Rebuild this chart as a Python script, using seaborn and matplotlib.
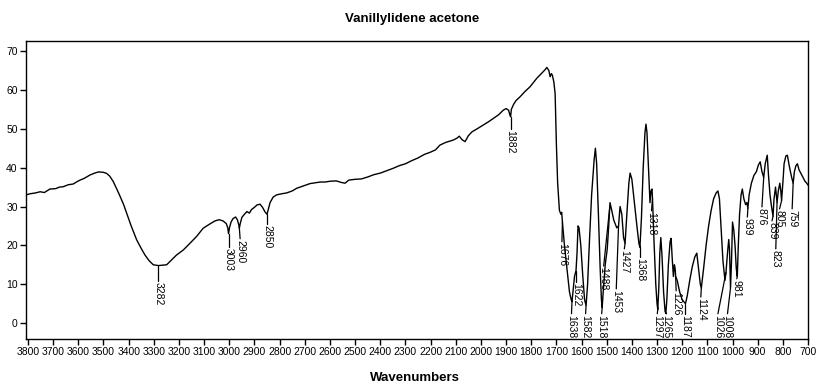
import numpy as np
import matplotlib
matplotlib.use("Agg")
import matplotlib.pyplot as plt
import seaborn as sns

# spectrum (wavenumber, %T)
wavenumber = [
    3808, 3790, 3770, 3752, 3735, 3713, 3690, 3675, 3660, 3640, 3620, 3605, 3593, 3575,
    3554, 3535, 3520, 3500, 3487, 3475, 3461, 3440, 3420, 3408, 3390, 3368, 3350, 3335,
    3318, 3302, 3282, 3265, 3249, 3230, 3210, 3183, 3160, 3130, 3104, 3080, 3057, 3040,
    3025, 3012, 3006, 3003, 2999, 2993, 2985, 2975, 2968, 2962, 2960, 2957, 2950, 2940,
    2930, 2920, 2912, 2900, 2890, 2878, 2868, 2858, 2850, 2846, 2838, 2826, 2812, 2790,
    2772, 2750, 2732, 2710, 2679, 2639, 2620, 2600, 2575, 2555, 2540, 2525, 2500, 2475,
    2450, 2425, 2400, 2375, 2350, 2325, 2300, 2275, 2250, 2225, 2200, 2180, 2163, 2140,
    2110, 2095, 2086, 2075, 2063, 2050, 2036, 2015, 1990, 1970, 1950, 1930, 1911, 1900,
    1890, 1885, 1882, 1879, 1870, 1860, 1845, 1825, 1805, 1790, 1778, 1760, 1745, 1738,
    1730, 1725, 1720, 1716, 1710, 1705, 1700, 1695, 1688, 1682, 1679, 1676, 1668, 1658,
    1648, 1641, 1638, 1634, 1628, 1622, 1618, 1614, 1610, 1603, 1595, 1588, 1582, 1576,
    1568, 1560, 1550, 1545, 1540, 1533, 1526, 1521, 1518, 1514, 1506, 1498, 1492, 1487,
    1480, 1472, 1466, 1460, 1453, 1447, 1440, 1433, 1427, 1420, 1412, 1407, 1400, 1390,
    1380, 1372, 1368, 1362, 1355, 1348, 1344, 1340, 1334, 1328, 1324, 1320, 1318, 1312,
    1305, 1300, 1297, 1293, 1289, 1285, 1280, 1274, 1268, 1265, 1261, 1255, 1248, 1244,
    1240, 1235, 1231, 1228, 1226, 1220, 1210, 1200, 1190, 1187, 1180, 1170, 1160, 1150,
    1142, 1135, 1128, 1124, 1115, 1105, 1095, 1085, 1075, 1065, 1058, 1052, 1045, 1038,
    1030, 1026, 1020, 1015, 1012, 1008, 1004, 1000, 995, 990, 985, 981, 977, 972,
    966, 961, 955, 948, 943, 939, 934, 925, 915, 905, 897, 890, 883, 876,
    870, 862, 857, 851, 845, 839, 835, 829, 823, 818, 812, 808, 805, 800,
    795, 788, 782, 776, 770, 765, 759, 754, 748, 742, 736, 728, 720, 712,
    705, 700,
]
transmittance = [
    33.0, 33.3, 33.5, 33.8, 33.6, 34.5, 34.6, 35.0, 35.1, 35.6, 35.8, 36.4, 36.8, 37.3,
    38.1, 38.6, 38.9, 38.8, 38.5, 37.8, 36.4, 33.5, 30.5, 28.3, 25.0, 21.4, 19.2, 17.5,
    16.0, 15.0, 14.8, 14.9, 15.0, 16.2, 17.5, 18.8, 20.3, 22.3, 24.4, 25.4, 26.3, 26.6,
    26.3, 25.6, 24.5, 23.0, 24.6, 26.0, 26.9, 27.3, 26.6, 25.2, 24.4, 25.5, 27.2, 28.0,
    28.7, 28.3, 29.2, 29.8, 30.4, 30.6, 29.8, 28.6, 28.0, 29.0, 31.0, 32.4, 33.0, 33.3,
    33.5, 34.0, 34.7, 35.2, 35.9, 36.3, 36.3, 36.5, 36.6, 36.2, 36.0, 36.8, 37.0, 37.1,
    37.6, 38.2, 38.6, 39.2, 39.8, 40.5, 41.0, 41.8, 42.5, 43.4, 44.0, 44.6, 45.8, 46.5,
    47.1, 47.6, 48.1, 47.2, 46.7, 48.2, 49.2, 50.0, 51.0, 51.8, 52.7, 53.6, 54.8, 55.2,
    54.8, 53.6, 53.1, 55.0, 56.3, 57.3, 58.2, 59.6, 60.8, 62.0, 63.0, 64.2, 65.2, 65.8,
    65.0, 63.4, 64.2, 63.8, 62.0, 59.0, 46.0, 36.0, 29.0, 28.0, 28.5, 26.0, 20.0, 14.0,
    8.0, 6.0, 5.5, 8.0, 12.0, 13.5, 18.0, 25.0, 24.5, 20.0, 12.0, 6.0, 4.5, 10.0,
    22.0, 33.0, 42.0, 45.0, 41.0, 28.0, 14.0, 6.0, 4.0, 8.0, 15.0, 19.0, 25.0, 31.0,
    29.0, 26.5, 25.5, 24.5, 25.0, 30.0, 28.0, 22.0, 20.5, 28.0, 36.0, 38.6, 37.0, 31.0,
    25.0, 20.5, 19.5, 27.0, 40.0, 49.0, 51.2, 49.0, 40.0, 31.0, 34.0, 34.5, 32.0, 21.0,
    10.0, 5.0, 3.5, 9.0, 18.0, 22.0, 17.0, 8.0, 3.0, 2.5, 6.0, 15.0, 21.0, 21.8,
    17.0, 12.0, 15.0, 14.0, 12.0, 11.0, 8.0, 6.0, 5.2, 5.0, 7.0, 11.0, 14.5, 17.0,
    18.0, 14.0, 10.0, 9.0, 14.0, 20.0, 25.0, 29.0, 32.0, 33.5, 34.0, 32.0, 24.0, 16.0,
    11.0, 13.0, 18.0, 21.5, 19.0, 9.0, 16.0, 26.0, 24.0, 20.0, 14.0, 12.0, 20.0, 28.0,
    33.0, 34.5, 32.0, 30.5, 31.0, 29.5, 33.0, 36.0, 38.0, 39.0, 40.7, 41.5, 39.0, 37.5,
    41.0, 43.2, 38.0, 33.0, 30.0, 27.5, 32.0, 35.0, 31.0, 34.0, 36.0, 34.0, 31.5, 36.0,
    41.0, 43.0, 43.2, 41.0, 39.0, 37.5, 36.0, 39.0, 40.5, 41.0, 39.5, 38.5, 37.5, 36.5,
    36.0, 35.5,
]

# peak picks shown on the chart
peak_labels = ["3282", "3003", "2960", "2850", "1882", "1676", "1638", "1622", "1582",
               "1518", "1488", "1453", "1427", "1368", "1318", "1297", "1265", "1226",
               "1187", "1124", "1026", "1008", "981", "939", "876", "839", "823", "805", "759"]

# where each label text sits (x in cm-1, top of text in %T)
label_x = [3282, 3003, 2957, 2850, 1882, 1678, 1640, 1622, 1584, 1520, 1512, 1462, 1430,
           1368, 1322, 1299, 1262, 1224, 1187, 1126, 1058, 1020, 983, 941, 883, 843, 828, 813, 763]
label_top = [10.6, 19.3, 21.4, 25.2, 49.7, 20.6, 2.1, 10.3, 2.1, 2.1, 14.4, 8.5, 18.8,
             16.7, 28.6, 2.1, 2.1, 8.0, 2.1, 6.4, 2.1, 2.1, 11.1, 27.0, 29.6, 26.0, 18.8, 29.1, 29.1]

sns.set_style("ticks")
plt.rcParams["font.family"] = ["Liberation Sans", "DejaVu Sans"]
plt.rcParams["text.color"] = "black"
plt.rcParams["xtick.color"] = "black"
plt.rcParams["ytick.color"] = "black"
plt.rcParams["xtick.labelcolor"] = "black"
plt.rcParams["ytick.labelcolor"] = "black"
small_font = ["Liberation Sans Narrow", "Liberation Sans", "DejaVu Sans"]

fig = plt.figure(figsize=(8.24, 3.9), dpi=100)
ax = fig.add_axes([26 / 824, 1 - 339 / 390, (808 - 26) / 824, (339 - 41) / 390])

sns.lineplot(x=wavenumber, y=transmittance, sort=False, color="black", linewidth=1.0, ax=ax)

wn_arr = np.array(wavenumber)[::-1]
tr_arr = np.array(transmittance)[::-1]
for lab, lx, top in zip(peak_labels, label_x, label_top):
    pk = float(lab)
    yv = np.interp(pk, wn_arr, tr_arr)
    ax.plot([pk, lx], [yv, top + 0.3], color="black", linewidth=0.9)
    ax.text(lx, top, lab, rotation=270, ha="center", va="top", fontsize=7.5,
            family=small_font, color="black")

ax.set_xlim(3808, 700)
ax.set_ylim(-4.1, 72.6)
ax.set_xticks(np.arange(3800, 699, -100))
ax.set_yticks(np.arange(0, 71, 10))
ax.tick_params(direction="out", length=4, width=1, labelsize=7.5, pad=2,
               colors="black")
for t in ax.get_xticklabels() + ax.get_yticklabels():
    t.set_family(small_font)
for sp in ax.spines.values():
    sp.set_visible(True)
    sp.set_linewidth(1.0)
    sp.set_color("black")
ax.set_xlabel("")
ax.set_ylabel("")

fig.text(412 / 824, 1 - 19 / 390, "Vanillylidene acetone", ha="center", va="center",
         fontsize=9.5, fontweight="bold", color="black")
fig.text(415 / 824, 1 - 378 / 390, "Wavenumbers", ha="center", va="center",
         fontsize=9.5, fontweight="bold", color="black")

fig.savefig("out.png", dpi=100, facecolor="white")
